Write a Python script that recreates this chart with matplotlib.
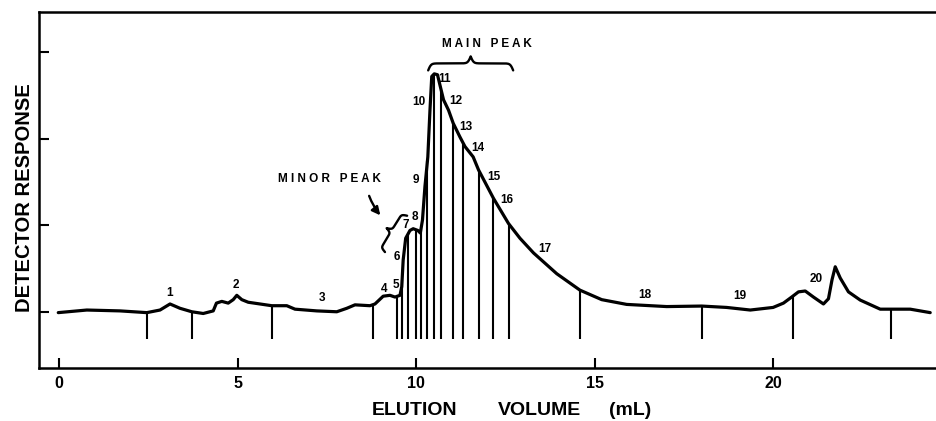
import numpy as np
import matplotlib
matplotlib.use('Agg')
import matplotlib.pyplot as plt

plt.rcParams['font.family'] = ['Liberation Sans', 'DejaVu Sans']
plt.rcParams['font.weight'] = 'bold'

# elution volume (mL) / detector response
vol = [-0.02, 0.78, 1.71, 2.46, 2.83, 3.11, 3.39, 3.72, 4.04, 4.32, 4.41, 4.56, 4.74, 4.88,
       4.98, 5.12, 5.3, 5.63, 5.96, 6.38, 6.61, 7.22, 7.78, 8.06, 8.29, 8.71, 8.85, 9.08,
       9.27, 9.41, 9.55, 9.6, 9.64, 9.71, 9.83, 9.92, 10.05, 10.12, 10.18, 10.25, 10.33,
       10.39, 10.44, 10.51, 10.6, 10.67, 10.77, 10.91, 11.04, 11.23, 11.37, 11.6, 11.75,
       12.17, 12.59, 12.91, 13.29, 13.94, 14.59, 15.2, 15.9, 17.02, 18.0, 18.7, 19.36,
       20.0, 20.29, 20.52, 20.71, 20.9, 21.13, 21.41, 21.55, 21.65, 21.74, 21.88, 22.11,
       22.44, 23.0, 23.84, 24.4]
resp = [-0.01, 0.02, 0.01, -0.01, 0.02, 0.09, 0.04, 0.0, -0.02, 0.01, 0.10, 0.12, 0.10, 0.14,
        0.19, 0.14, 0.11, 0.09, 0.07, 0.07, 0.03, 0.01, 0.0, 0.04, 0.08, 0.07, 0.09, 0.18,
        0.19, 0.17, 0.19, 0.29, 0.6, 0.85, 0.94, 0.96, 0.94, 0.91, 1.06, 1.45, 1.79,
        2.33, 2.72, 2.75, 2.74, 2.62, 2.45, 2.33, 2.18, 2.02, 1.91, 1.79, 1.64,
        1.31, 1.02, 0.85, 0.68, 0.44, 0.25, 0.14, 0.085, 0.06, 0.066, 0.05, 0.02,
        0.05, 0.1, 0.17, 0.23, 0.24, 0.17, 0.09, 0.15, 0.37, 0.52, 0.39, 0.23,
        0.135, 0.03, 0.03, -0.01]

# fraction cuts (mL)
cuts = [2.46, 3.72, 5.96, 8.8, 9.46, 9.61, 9.78, 9.99, 10.14, 10.32, 10.51, 10.70,
        11.04, 11.32, 11.76, 12.15, 12.59, 14.6, 18.0, 20.55, 23.3]

# fraction numbers
frac_lab = ['1', '2', '3', '4', '5', '6', '7', '8', '9', '10',
            '11', '12', '13', '14', '15', '16', '17', '18', '19', '20']
frac_x = [3.11, 4.96, 7.37, 9.10, 9.44, 9.47, 9.71, 9.97, 10.0, 10.08,
          10.8, 11.12, 11.4, 11.72, 12.17, 12.55, 13.61, 16.41, 19.07, 21.22]
frac_y = [0.216, 0.31, 0.16, 0.26, 0.31, 0.63, 1.0, 1.09, 1.52, 2.42,
          2.69, 2.44, 2.14, 1.89, 1.56, 1.29, 0.73, 0.19, 0.185, 0.38]

xticks = [0, 5, 10, 15, 20]
yticks = [0, 1, 2, 3]


def brace(ax, p0, p1, h, beta=60, lw=1.5):
    # curly brace from p0 to p1 (data), cusp h pixels to the left of p0->p1
    a = ax.transData.transform(p0)
    b = ax.transData.transform(p1)
    d = b - a
    L = np.hypot(d[0], d[1])
    u = d / L
    n = np.array([-u[1], u[0]])
    s = np.linspace(0, 0.5, 100)
    half = 1/(1+np.exp(-beta*s)) + 1/(1+np.exp(-beta*(s-0.5))) - 0.5
    s = np.concatenate([s, 1 - s[-2::-1]])
    f = np.concatenate([half, half[-2::-1]])
    pts = a + np.outer(s*L, u) + np.outer(f*h, n)
    xy = ax.transData.inverted().transform(pts)
    ax.plot(xy[:, 0], xy[:, 1], 'k', lw=lw, solid_capstyle='round')


fig = plt.figure(figsize=(9.37, 4.21), dpi=100)
ax = fig.add_axes([0.0416, 0.1259, 0.9584, 0.8456])
ax.set_xlim(-0.56, 24.59)
ax.set_ylim(-0.65, 3.465)

for sp in ['left', 'top', 'bottom']:
    ax.spines[sp].set_linewidth(1.8)
ax.spines['right'].set_visible(False)

ax.set_xticks(xticks)
ax.set_yticks(yticks)
ax.set_yticklabels([])
ax.tick_params(direction='in', length=7, width=1.5, pad=6)
ax.tick_params(axis='x', labelsize=11.5)

# cut marks, then the trace
ax.vlines(cuts, -0.32, np.interp(cuts, vol, resp), color='k', lw=1.5)
ax.plot(vol, resp, 'k', lw=2.3, solid_joinstyle='round', solid_capstyle='round')

for s, x, y in zip(frac_lab, frac_x, frac_y):
    ax.text(x, y, s, ha='center', va='center', fontsize=8.5, fontweight='bold')

# annotations
ax.text(11.99, 3.09, 'M A I N   P E A K', ha='center', va='center', fontsize=8.5)
brace(ax, (10.34, 2.79), (12.72, 2.79), 14, lw=1.7)

ax.text(7.59, 1.53, 'M I N O R   P E A K', ha='center', va='center', fontsize=8.5)
ax.annotate('', xy=(9.05, 1.09), xytext=(8.66, 1.37),
            arrowprops=dict(arrowstyle='-|>', color='k', lw=1.7, mutation_scale=12,
                            connectionstyle='arc3,rad=0.1'))
brace(ax, (9.13, 0.69), (9.75, 1.11), 11, beta=45, lw=1.7)

fig.text(25/937, 0.531, 'DETECTOR RESPONSE', rotation=90, ha='center', va='center',
         fontsize=14.5, fontweight='bold')
fig.text(415/937, 0.026, 'ELUTION', ha='center', va='center', fontsize=14)
fig.text(539/937, 0.026, 'VOLUME', ha='center', va='center', fontsize=14)
fig.text(630/937, 0.026, '(mL)', ha='center', va='center', fontsize=14)

fig.savefig('out.png', dpi=100)
